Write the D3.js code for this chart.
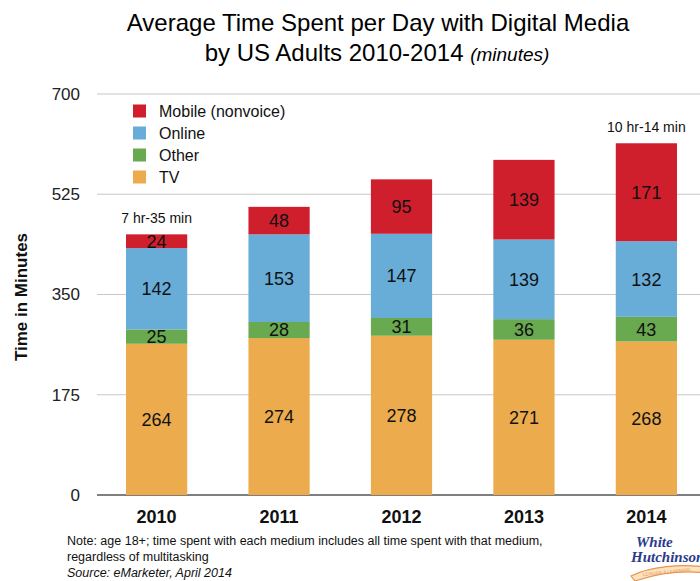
<!DOCTYPE html>
<html>
<head>
<meta charset="utf-8">
<script src="https://cdn.jsdelivr.net/npm/d3@7"></script>
<style>
  body { margin: 0; background: #fff; }
  svg { font-family: "Liberation Sans", Arial, sans-serif; }
</style>
</head>
<body>
<svg id="chart"></svg>
<script>
// ########## Data ##########
years = ["2010", "2011", "2012", "2013", "2014"];
tv = [264, 274, 278, 271, 268];
other = [25, 28, 31, 36, 43];
online = [142, 153, 147, 139, 132];
mobile = [24, 48, 95, 139, 171];
seriesNames = ["TV", "Other", "Online", "Mobile (nonvoice)"];
seriesColors = ["#ecac4e", "#69a94f", "#68acd8", "#cf1f2d"];
yTicks = [0, 175, 350, 525, 700];
totalNotes = [{ year: "2010", text: "7 hr-35 min" }, { year: "2014", text: "10 hr-14 min" }];

w = 700;
h = 581;

svg = d3.select("#chart").attr("width", w).attr("height", h);

// ########## Scales ##########
x = d3.scaleBand().domain(years).range([126, 677]).paddingInner(0.5).paddingOuter(0);
y = d3.scaleLinear().domain([0, 700]).range([495, 94]);

rows = years.map(function (yr, i) {
    return { year: yr, "TV": tv[i], "Other": other[i], "Online": online[i], "Mobile (nonvoice)": mobile[i] };
});
stacked = d3.stack().keys(seriesNames)(rows);

// ########## Title ##########
svg.append("text")
    .attr("x", 378).attr("y", 31)
    .attr("text-anchor", "middle")
    .attr("font-size", 24)
    .attr("fill", "#000")
    .text("Average Time Spent per Day with Digital Media");

title2 = svg.append("text")
    .attr("x", 377).attr("y", 61)
    .attr("text-anchor", "middle")
    .attr("font-size", 24)
    .attr("fill", "#000");
title2.append("tspan").text("by US Adults 2010-2014 ");
title2.append("tspan").attr("font-style", "italic").attr("font-size", 19).text("(minutes)");

// ########## Grid & Y axis ##########
svg.append("g").selectAll("line")
    .data(yTicks)
    .enter().append("line")
    .attr("x1", 97).attr("x2", w)
    .attr("y1", function (d) { return y(d); })
    .attr("y2", function (d) { return y(d); })
    .attr("stroke", function (d) { return d == 0 ? "#555" : "#c8c8c8"; })
    .attr("stroke-width", function (d) { return d == 0 ? 1.5 : 1.2; });

svg.append("g").selectAll("text")
    .data(yTicks)
    .enter().append("text")
    .attr("x", 80)
    .attr("y", function (d) { return y(d); })
    .attr("dy", "0.35em")
    .attr("text-anchor", "end")
    .attr("font-size", 17)
    .attr("fill", "#222")
    .text(function (d) { return d; });

svg.append("text")
    .attr("transform", "translate(27,297) rotate(-90)")
    .attr("text-anchor", "middle")
    .attr("font-size", 17)
    .attr("font-weight", "bold")
    .attr("fill", "#111")
    .text("Time in Minutes");

// ########## Bars ##########
layer = svg.append("g").selectAll("g")
    .data(stacked)
    .enter().append("g")
    .attr("fill", function (d, i) { return seriesColors[i]; });

layer.selectAll("rect")
    .data(function (d) { return d; })
    .enter().append("rect")
    .attr("x", function (d) { return x(d.data.year); })
    .attr("width", x.bandwidth())
    .attr("y", function (d) { return y(d[1]); })
    .attr("height", function (d) { return y(d[0]) - y(d[1]); });

layer.selectAll("text")
    .data(function (d) { return d.map(function (p) { return { p: p, key: d.key }; }); })
    .enter().append("text")
    .attr("x", function (d) { return x(d.p.data.year) + x.bandwidth() / 2; })
    .attr("y", function (d) { return (y(d.p[0]) + y(d.p[1])) / 2; })
    .attr("dy", "0.36em")
    .attr("text-anchor", "middle")
    .attr("font-size", 18)
    .attr("fill", "#111")
    .text(function (d) { return d.p.data[d.key]; });

// ########## Totals ##########
svg.append("g").selectAll("text")
    .data(totalNotes)
    .enter().append("text")
    .attr("x", function (d) { return x(d.year) + x.bandwidth() / 2; })
    .attr("y", function (d) {
        var i = years.indexOf(d.year);
        return y(tv[i] + other[i] + online[i] + mobile[i]) - 11;
    })
    .attr("text-anchor", "middle")
    .attr("font-size", 14)
    .attr("fill", "#111")
    .text(function (d) { return d.text; });

// ########## X labels ##########
svg.append("g").selectAll("text")
    .data(years)
    .enter().append("text")
    .attr("x", function (d) { return x(d) + x.bandwidth() / 2; })
    .attr("y", 523)
    .attr("text-anchor", "middle")
    .attr("font-size", 18)
    .attr("font-weight", "bold")
    .attr("fill", "#111")
    .text(function (d) { return d; });

// ########## Legend ##########
legendOrder = seriesNames.slice().reverse();
legend = svg.append("g").selectAll("g")
    .data(legendOrder)
    .enter().append("g")
    .attr("transform", function (d, i) { return "translate(133," + (111 + i * 22) + ")"; });

legend.append("rect")
    .attr("x", 0).attr("y", -6.5)
    .attr("width", 13).attr("height", 13)
    .attr("fill", function (d) { return seriesColors[seriesNames.indexOf(d)]; });

legend.append("text")
    .attr("x", 26).attr("dy", "0.36em")
    .attr("font-size", 16)
    .attr("fill", "#111")
    .text(function (d) { return d; });

// ########## Notes ##########
svg.append("text").attr("x", 67).attr("y", 545).attr("font-size", 12.5).attr("fill", "#111")
    .text("Note: age 18+; time spent with each medium includes all time spent with that medium,");
svg.append("text").attr("x", 67).attr("y", 561).attr("font-size", 12.5).attr("fill", "#111")
    .text("regardless of multitasking");
svg.append("text").attr("x", 67).attr("y", 577).attr("font-size", 12.5).attr("font-style", "italic").attr("fill", "#111")
    .text("Source: eMarketer, April 2014");

// ########## Logo ##########
logo = svg.append("g").attr("transform", "translate(631,534)");
logo.append("path")
    .attr("d", "M0,42 C20,32 50,30 75,33 L75,39 C50,36 25,40 4,47 Z")
    .attr("fill", "#fbe2c4")
    .attr("stroke", "#e9954a")
    .attr("stroke-width", 1.2);
logo.append("text").attr("x", 5).attr("y", 13).attr("font-size", 15).attr("font-weight", "bold")
    .attr("font-style", "italic").attr("fill", "#2b3a8c").attr("font-family", "Liberation Serif, serif")
    .text("White");
logo.append("text").attr("x", 0).attr("y", 28).attr("font-size", 15).attr("font-weight", "bold")
    .attr("font-style", "italic").attr("fill", "#2b3a8c").attr("font-family", "Liberation Serif, serif")
    .text("Hutchinson");
logo.append("text").attr("x", 12).attr("y", 42).attr("font-size", 4.5).attr("fill", "#e9954a")
    .attr("transform", "rotate(-6,12,42)")
    .text("LEISURE & LEARNING");
</script>
</body>
</html>
